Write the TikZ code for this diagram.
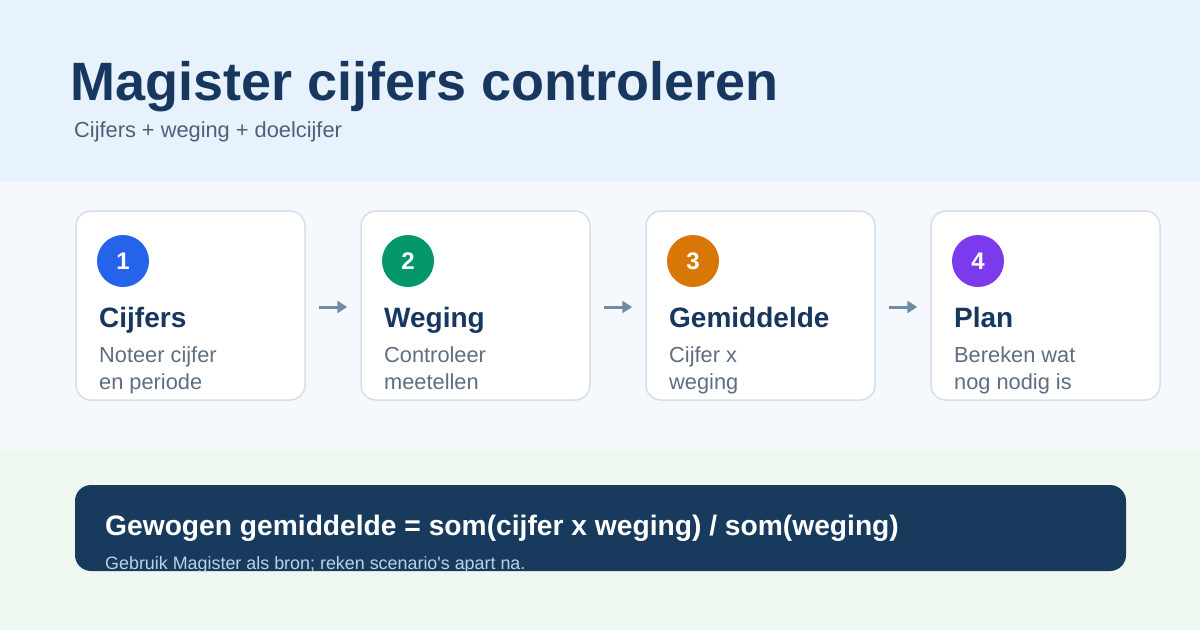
\documentclass[tikz,border=0pt]{standalone}
\usepackage{fontspec}
\setmainfont{Liberation Sans}
\usetikzlibrary{arrows.meta}
\definecolor{topbg}{HTML}{E8F2FC}
\definecolor{midbg}{HTML}{F5F9FD}
\definecolor{botbg}{HTML}{EEF8F0}
\definecolor{navy}{HTML}{17375E}
\definecolor{subgray}{HTML}{4B6179}
\definecolor{bodygray}{HTML}{5E6E80}
\definecolor{cardline}{HTML}{D5DFE9}
\definecolor{arrowc}{HTML}{6F8CA4}
\definecolor{darkbox}{HTML}{183A5C}
\definecolor{lightsub}{HTML}{B9D3EE}
\definecolor{cblue}{HTML}{2563EB}
\definecolor{cgreen}{HTML}{059669}
\definecolor{corange}{HTML}{D97706}
\definecolor{cpurple}{HTML}{7C3AED}
\begin{document}
\begin{tikzpicture}[x=1pt,y=-1pt,
  card/.style={draw=cardline, line width=1.5pt, fill=white, rounded corners=15pt,
    minimum width=229pt, minimum height=189pt, inner sep=0pt},
  numdot/.style={circle, minimum size=52pt, inner sep=0pt, text=white,
    font=\fontsize{24}{24}\selectfont\bfseries},
  headtxt/.style={anchor=base west, inner sep=0pt, text=navy,
    font=\fontsize{28}{30}\selectfont\bfseries},
  bodytxt/.style={anchor=base west, inner sep=0pt, text=bodygray,
    font=\fontsize{21.8}{26}\selectfont},
  arr/.style={draw=arrowc, line width=3pt, -{Triangle[length=10pt,width=12pt]}},
  darkbar/.style={fill=darkbox, rounded corners=16pt, minimum width=1051pt,
    minimum height=86pt, inner sep=0pt}
]
\useasboundingbox (0,0) rectangle (1200,630);
\fill[topbg] (0,0) rectangle (1200,181);
\fill[midbg] (0,181) rectangle (1200,450);
\fill[botbg] (0,450) rectangle (1200,630);

\node[anchor=base west, inner sep=0pt, text=navy,
  font=\fontsize{54}{60}\selectfont\bfseries] (title) at (70,100) {Magister cijfers controleren};
\node[anchor=base west, inner sep=0pt, text=subgray,
  font=\fontsize{21.8}{26}\selectfont] (subtitle) at (74,137) {Cijfers + weging + doelcijfer};

% cards
\node[card] (c1) at (190.5,305.5) {};
\node[card] (c2) at (475.5,305.5) {};
\node[card] (c3) at (760.5,305.5) {};
\node[card] (c4) at (1045.5,305.5) {};

\node[numdot, fill=cblue] (n1) at (123,261) {1};
\node[numdot, fill=cgreen] (n2) at (408,261) {2};
\node[numdot, fill=corange] (n3) at (693,261) {3};
\node[numdot, fill=cpurple] (n4) at (978,261) {4};

\node[headtxt] (h1) at (99,327) {Cijfers};
\node[headtxt] (h2) at (384,327) {Weging};
\node[headtxt] (h3) at (669,327) {Gemiddelde};
\node[headtxt] (h4) at (954,327) {Plan};

\node[bodytxt] (b1a) at (99,362) {Noteer cijfer};
\node[bodytxt] (b1b) at (99,389) {en periode};
\node[bodytxt] (b2a) at (384,362) {Controleer};
\node[bodytxt] (b2b) at (384,389) {meetellen};
\node[bodytxt] (b3a) at (669,362) {Cijfer x};
\node[bodytxt] (b3b) at (669,389) {weging};
\node[bodytxt] (b4a) at (954,362) {Bereken wat};
\node[bodytxt] (b4b) at (954,389) {nog nodig is};

\draw[arr] ([xshift=13pt,yshift=-1.5pt]c1.east) -- ([xshift=-13pt,yshift=-1.5pt]c2.west);
\draw[arr] ([xshift=13pt,yshift=-1.5pt]c2.east) -- ([xshift=-13pt,yshift=-1.5pt]c3.west);
\draw[arr] ([xshift=13pt,yshift=-1.5pt]c3.east) -- ([xshift=-13pt,yshift=-1.5pt]c4.west);

% formula bar
\node[darkbar] (bar) at (600.5,528) {};
\node[anchor=base west, inner sep=0pt, text=white,
  font=\fontsize{28.2}{30}\selectfont\bfseries] (formula) at (105,535)
  {Gewogen gemiddelde = som(cijfer x weging) / som(weging)};
\begin{scope}
  \clip[rounded corners=16pt] (bar.north west) rectangle (bar.south east);
  \node[anchor=base west, inner sep=0pt, text=lightsub,
    font=\fontsize{17.9}{20}\selectfont] (note) at (105,569)
    {Gebruik Magister als bron; reken scenario\textquotesingle s apart na.};
\end{scope}
\end{tikzpicture}
\end{document}
